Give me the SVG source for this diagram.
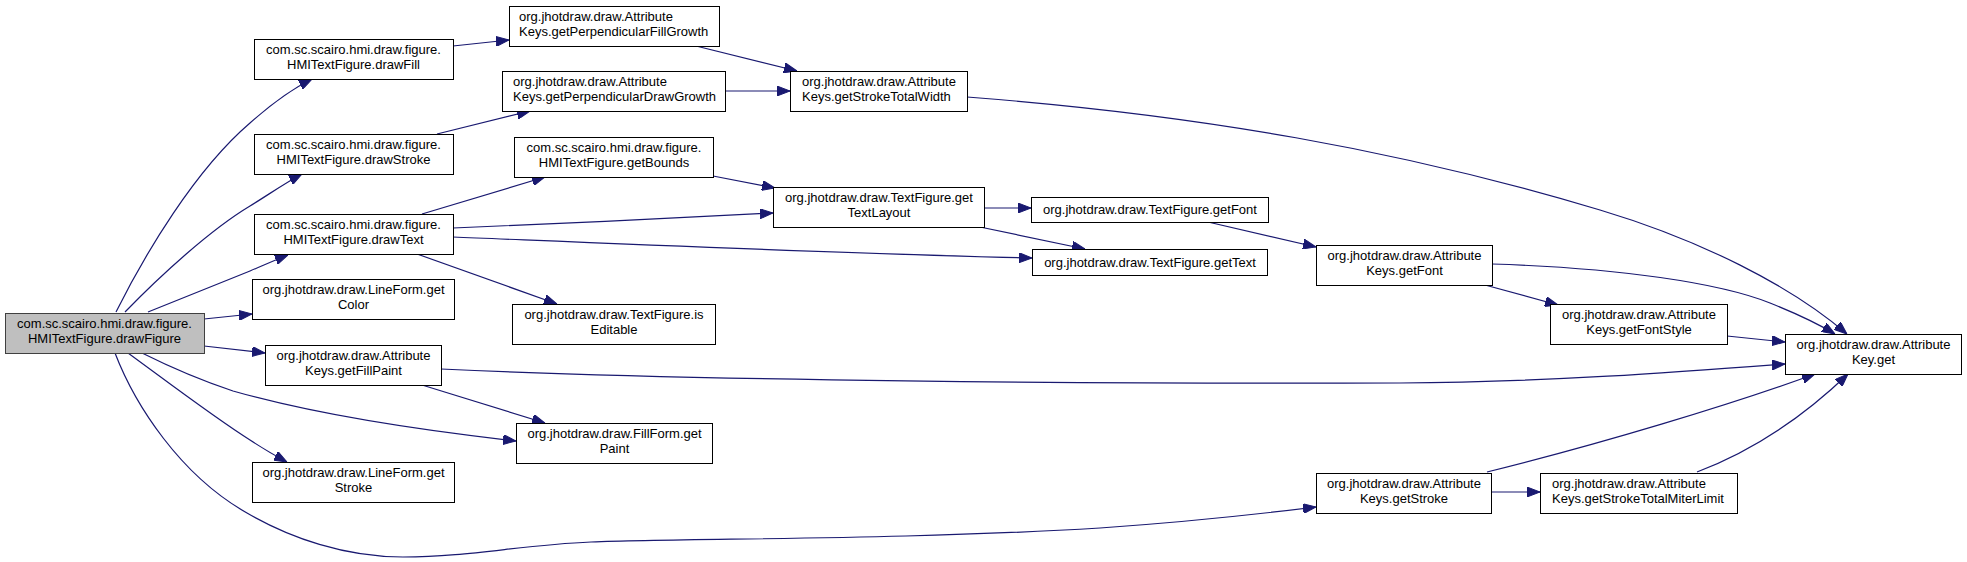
<svg xmlns="http://www.w3.org/2000/svg" width="1967" height="562" viewBox="0 0 1967 562">
<style>
.node rect{fill:#ffffff;stroke:#000000;stroke-width:1}
.node.root rect{fill:#bfbfbf;stroke:#404040}
.node text{font-family:"Liberation Sans",Arial,sans-serif;font-size:13px;fill:#000000;text-anchor:middle}
.node text.l{text-anchor:start}
.edges path{fill:none;stroke:#191970;stroke-width:1.2;marker-end:url(#arr)}
</style>
<defs>
<marker id="arr" viewBox="0 0 13 10" refX="13" refY="5" markerWidth="13" markerHeight="10" markerUnits="userSpaceOnUse" orient="auto">
<path d="M0,0 L13,5 L0,10 z" fill="#191970" stroke="#191970" stroke-width="1"/>
</marker>
</defs>
<rect x="0" y="0" width="1967" height="562" fill="#ffffff"/>
<g class="edges" id="edges">
<path d="M116,312 C145,254 195,170 250,123 C268,107 288,91 312,79"/>
<path d="M125,312 C160,276 210,230 250,206 C268,195 285,183 302,174"/>
<path d="M148,312 C180,299 215,285 250,271 C262,266 275,260 288,255"/>
<path d="M204,319 L252,314"/>
<path d="M204,346 L265,353"/>
<path d="M142,353 C170,367 200,380 233,391 C310,413 400,428 516,441"/>
<path d="M128,353 C165,380 215,418 250,440 C262,448 274,455 287,462"/>
<path d="M115,353 C135,405 180,475 247,513 C290,538 345,557 403,557 C470,557 520,545 591,542 C700,538 900,540 1100,528 C1200,521 1260,514 1316,507"/>
<path d="M453,46 L509,40"/>
<path d="M437,134 L530,111"/>
<path d="M422,214 L545,177"/>
<path d="M453,228 C550,224 680,218 773,213"/>
<path d="M453,237 C600,243 850,254 1032,258"/>
<path d="M417,254 L557,304"/>
<path d="M422,385 L545,423"/>
<path d="M441,369 C700,381 1100,384 1400,383 C1550,382 1680,372 1785,364"/>
<path d="M696,46 L797,71"/>
<path d="M725,91 L790,91"/>
<path d="M967,97 C1200,115 1400,150 1600,210 C1700,240 1790,285 1847,334"/>
<path d="M713,176 L775,188"/>
<path d="M984,208 L1031,208"/>
<path d="M980,227 L1085,249"/>
<path d="M1208,222 L1316,247"/>
<path d="M1492,264 C1620,268 1720,283 1770,303 C1795,313 1815,322 1835,334"/>
<path d="M1485,285 L1558,305"/>
<path d="M1727,336 L1785,342"/>
<path d="M1487,472 C1600,444 1730,405 1815,374"/>
<path d="M1491,492 L1540,492"/>
<path d="M1697,472 C1750,452 1800,420 1848,374"/>
</g>
<g class="node root" id="drawFigure"><rect x="5.5" y="313.5" width="199" height="40"/><text x="104.5" y="328">com.sc.scairo.hmi.draw.figure.</text><text x="104.5" y="343">HMITextFigure.drawFigure</text></g>
<g class="node" id="drawFill"><rect x="254.5" y="39.5" width="199" height="40"/><text x="353.5" y="54">com.sc.scairo.hmi.draw.figure.</text><text x="353.5" y="69">HMITextFigure.drawFill</text></g>
<g class="node" id="drawStroke"><rect x="254.5" y="134.5" width="199" height="40"/><text x="353.5" y="149">com.sc.scairo.hmi.draw.figure.</text><text x="353.5" y="164">HMITextFigure.drawStroke</text></g>
<g class="node" id="drawText"><rect x="254.5" y="214.5" width="199" height="40"/><text x="353.5" y="229">com.sc.scairo.hmi.draw.figure.</text><text x="353.5" y="244">HMITextFigure.drawText</text></g>
<g class="node" id="lineFormGetColor"><rect x="252.5" y="279.5" width="202" height="40"/><text x="353.5" y="294">org.jhotdraw.draw.LineForm.get</text><text x="353.5" y="309">Color</text></g>
<g class="node" id="getFillPaint"><rect x="265.5" y="345.5" width="176" height="40"/><text x="353.5" y="360">org.jhotdraw.draw.Attribute</text><text x="353.5" y="375">Keys.getFillPaint</text></g>
<g class="node" id="lineFormGetStroke"><rect x="252.5" y="462.5" width="202" height="40"/><text x="353.5" y="477">org.jhotdraw.draw.LineForm.get</text><text x="353.5" y="492">Stroke</text></g>
<g class="node" id="getPerpendicularFillGrowth"><rect x="509.5" y="6.5" width="210" height="40"/><text class="l" x="519" y="21">org.jhotdraw.draw.Attribute</text><text class="l" x="519" y="36">Keys.getPerpendicularFillGrowth</text></g>
<g class="node" id="getPerpendicularDrawGrowth"><rect x="502.5" y="71.5" width="223" height="40"/><text class="l" x="513" y="86">org.jhotdraw.draw.Attribute</text><text class="l" x="513" y="101">Keys.getPerpendicularDrawGrowth</text></g>
<g class="node" id="getStrokeTotalWidth"><rect x="790.5" y="71.5" width="177" height="40"/><text class="l" x="802" y="86">org.jhotdraw.draw.Attribute</text><text class="l" x="802" y="101">Keys.getStrokeTotalWidth</text></g>
<g class="node" id="getBounds"><rect x="514.5" y="137.5" width="199" height="40"/><text x="614" y="152">com.sc.scairo.hmi.draw.figure.</text><text x="614" y="167">HMITextFigure.getBounds</text></g>
<g class="node" id="getTextLayout"><rect x="773.5" y="187.5" width="211" height="40"/><text x="879" y="202">org.jhotdraw.draw.TextFigure.get</text><text x="879" y="217">TextLayout</text></g>
<g class="node" id="isEditable"><rect x="512.5" y="304.5" width="203" height="40"/><text x="614" y="319">org.jhotdraw.draw.TextFigure.is</text><text x="614" y="334">Editable</text></g>
<g class="node" id="fillFormGetPaint"><rect x="516.5" y="423.5" width="196" height="40"/><text x="614.5" y="438">org.jhotdraw.draw.FillForm.get</text><text x="614.5" y="453">Paint</text></g>
<g class="node" id="textFigureGetFont"><rect x="1031.5" y="197.5" width="237" height="25"/><text x="1150" y="214">org.jhotdraw.draw.TextFigure.getFont</text></g>
<g class="node" id="textFigureGetText"><rect x="1032.5" y="249.5" width="235" height="26"/><text x="1150" y="266.5">org.jhotdraw.draw.TextFigure.getText</text></g>
<g class="node" id="attributeKeysGetFont"><rect x="1316.5" y="245.5" width="176" height="40"/><text x="1404.5" y="260">org.jhotdraw.draw.Attribute</text><text x="1404.5" y="275">Keys.getFont</text></g>
<g class="node" id="getFontStyle"><rect x="1550.5" y="304.5" width="177" height="40"/><text x="1639" y="319">org.jhotdraw.draw.Attribute</text><text x="1639" y="334">Keys.getFontStyle</text></g>
<g class="node" id="attributeKeyGet"><rect x="1785.5" y="334.5" width="176" height="40"/><text x="1873.5" y="349">org.jhotdraw.draw.Attribute</text><text x="1873.5" y="364">Key.get</text></g>
<g class="node" id="attributeKeysGetStroke"><rect x="1316.5" y="473.5" width="175" height="40"/><text x="1404" y="488">org.jhotdraw.draw.Attribute</text><text x="1404" y="503">Keys.getStroke</text></g>
<g class="node" id="getStrokeTotalMiterLimit"><rect x="1540.5" y="473.5" width="197" height="40"/><text class="l" x="1552" y="488">org.jhotdraw.draw.Attribute</text><text class="l" x="1552" y="503">Keys.getStrokeTotalMiterLimit</text></g>
</svg>
